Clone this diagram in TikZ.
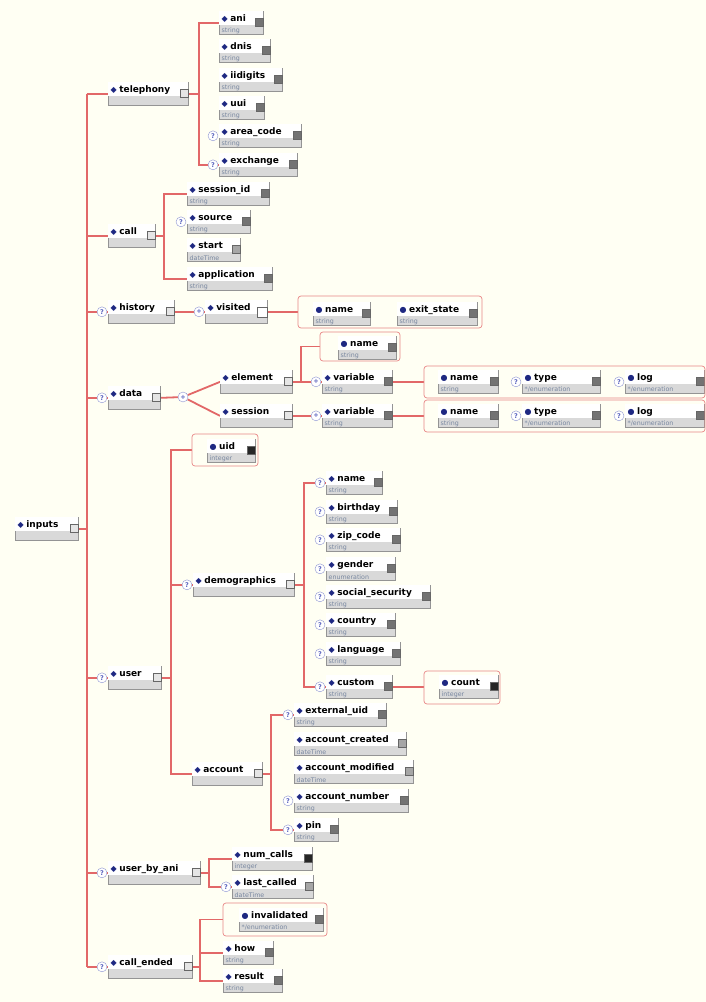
\documentclass[tikz,border=0pt]{standalone}
\usepackage{fontspec}
\setmainfont{DejaVu Sans}
\usetikzlibrary{positioning,fit,backgrounds,calc}
\definecolor{paper}{RGB}{255,255,243}
\definecolor{wire}{RGB}{226,104,104}
\definecolor{navy}{RGB}{30,40,130}
\definecolor{typec}{RGB}{120,135,160}
\definecolor{qcol}{RGB}{90,100,190}
\tikzset{
  elbox/.style ={draw=black!42, fill=black!15, minimum height=23pt, inner sep=0pt, line width=0.7pt},
  lbl/.style   ={font=\fontsize{9}{10}\selectfont\bfseries, inner sep=1pt},
  typ/.style   ={font=\fontsize{6.3}{7}\selectfont, text=typec, inner sep=0.5pt},
  ico/.style   ={draw=black!60, minimum size=8pt, inner sep=0pt, line width=0.4pt},
  icc/.style   ={ico, fill=black!10},
  ics/.style   ={ico, fill=black!55},
  ici/.style   ={ico, fill=black!85},
  icd/.style   ={ico, fill=black!35},
  ice/.style   ={ico, fill=white, minimum size=10pt},
  qmark/.style ={circle, draw=qcol!70, fill=white, minimum size=10pt, inner sep=0pt,
                 text=qcol, font=\fontsize{6.5}{6}\selectfont\bfseries},
  grp/.style   ={draw=wire!80, rounded corners=3pt, inner sep=0pt, line width=0.7pt},
  ln/.style    ={draw=wire, line width=1.8pt}
}
\newcommand{\dia}{{\color{navy}\fontsize{8}{6}\selectfont ◆}}
\newcommand{\dotm}{{\color{navy}\fontsize{8}{6}\selectfont ●}}
% [marker] id, position, width, name, type, icon
\newcommand{\elm}[7][\dia]{%
  \node[elbox, minimum width=#4pt, anchor=north west] (#2) at (#3) {};
  \fill[white] ([shift={(0.35pt,-0.35pt)}]#2.north west) rectangle ([shift={(-0.35pt,-14pt)}]#2.north east);
  \node[lbl, anchor=west] (#2-l) at ([shift={(1.5pt,-8pt)}]#2.north west) {#1\hspace{2.5pt}#5};
  \node[typ, anchor=south west] (#2-t) at ([shift={(2pt,0.6pt)}]#2.south west) {#6};
  \node[#7, anchor=north east] (#2-i) at ([yshift=-7pt]#2.north east) {};
}
\newcommand{\opt}[2][?]{\node[qmark] (#2-q) at ([xshift=-6pt]#2.west) {#1};}

\begin{document}
\begin{tikzpicture}[x=1pt,y=-1pt]
  \useasboundingbox (0,0) rectangle (706,1002);
  \begin{scope}[on background layer]
    \fill[paper] (0,0) rectangle (706,1002);
  \end{scope}

  \elm{inputs}{15,517}{63}{inputs}{}{icc}

  % first level
  \elm{tele}{108,82}{80}{telephony}{}{icc}
  \elm{call}{108,224}{47}{call}{}{icc}
  \elm{hist}{108,300}{66}{history}{}{icc}\opt{hist}
  \elm{data}{108,386}{52}{data}{}{icc}\opt{data}
  \elm{user}{108,666}{53}{user}{}{icc}\opt{user}
  \elm{uba}{108,861}{92}{user\_by\_ani}{}{icc}\opt{uba}
  \elm{cend}{108,955}{84}{call\_ended}{}{icc}\opt{cend}

  % telephony
  \elm{ani}{219,11}{44}{ani}{string}{ics}
  \elm{dnis}{219,39}{51}{dnis}{string}{ics}
  \elm{iid}{219,68}{63}{iidigits}{string}{ics}
  \elm{uui}{219,96}{45}{uui}{string}{ics}
  \elm{area}{219,124}{82}{area\_code}{string}{ics}\opt{area}
  \elm{exch}{219,153}{78}{exchange}{string}{ics}\opt{exch}

  % call
  \elm{sid}{187,182}{82}{session\_id}{string}{ics}
  \elm{src}{187,210}{63}{source}{string}{ics}\opt{src}
  \elm{start}{187,238}{53}{start}{dateTime}{icd}
  \elm{app}{187,267}{85}{application}{string}{ics}

  % history
  \elm{vis}{205,300}{62}{visited}{}{ice}\opt[+]{vis}
  \elm[\dotm]{hname}{313,302}{57}{name}{string}{ics}
  \elm[\dotm]{hexit}{397,302}{80}{exit\_state}{string}{ics}
  \node[grp, fit={(298,296) (482,328)}] (hgrp) {};

  % data
  \node[qmark] (dplus) at (183,397) {+};
  \elm{elem}{220,370}{72}{element}{}{icc}
  \elm{sess}{220,404}{72}{session}{}{icc}
  \elm[\dotm]{ename}{338,336}{58}{name}{string}{ics}
  \node[grp, fit={(320,332) (400,361)}] (egrp) {};
  \elm{evar}{322,370}{70}{variable}{string}{ics}\opt[+]{evar}
  \elm{svar}{322,404}{70}{variable}{string}{ics}\opt[+]{svar}
  \elm[\dotm]{evn}{438,370}{60}{name}{string}{ics}
  \elm[\dotm]{evt}{522,370}{78}{type}{*/enumeration}{ics}\opt{evt}
  \elm[\dotm]{evl}{625,370}{79}{log}{*/enumeration}{ics}\opt{evl}
  \node[grp, fit={(424,366) (705,398)}] (evgrp) {};
  \elm[\dotm]{svn}{438,404}{60}{name}{string}{ics}
  \elm[\dotm]{svt}{522,404}{78}{type}{*/enumeration}{ics}\opt{svt}
  \elm[\dotm]{svl}{625,404}{79}{log}{*/enumeration}{ics}\opt{svl}
  \node[grp, fit={(424,400) (705,432)}] (svgrp) {};

  % user
  \elm[\dotm]{uid}{207,439}{48}{uid}{integer}{ici}
  \node[grp, fit={(192,434) (258,466)}] (ugrp) {};
  \elm{demo}{193,573}{101}{demographics}{}{icc}\opt{demo}
  \elm{acct}{192,762}{70}{account}{}{icc}

  \elm{dname}{326,471}{56}{name}{string}{ics}\opt{dname}
  \elm{bday}{326,500}{71}{birthday}{string}{ics}\opt{bday}
  \elm{zip}{326,528}{74}{zip\_code}{string}{ics}\opt{zip}
  \elm{gend}{326,557}{69}{gender}{enumeration}{ics}\opt{gend}
  \elm{ssn}{326,585}{104}{social\_security}{string}{ics}\opt{ssn}
  \elm{ctry}{326,613}{69}{country}{string}{ics}\opt{ctry}
  \elm{lang}{326,642}{74}{language}{string}{ics}\opt{lang}
  \elm{cust}{326,675}{66}{custom}{string}{ics}\opt{cust}
  \elm[\dotm]{cnt}{439,675}{59}{count}{integer}{ici}
  \node[grp, fit={(424,671) (500,704)}] (cgrp) {};

  \elm{xuid}{294,703}{92}{external\_uid}{string}{ics}\opt{xuid}
  \elm{acre}{294,732}{112}{account\_created}{dateTime}{icd}
  \elm{amod}{294,760}{119}{account\_modified}{dateTime}{icd}
  \elm{anum}{294,789}{114}{account\_number}{string}{ics}\opt{anum}
  \elm{pin}{294,818}{44}{pin}{string}{ics}\opt{pin}

  % user_by_ani
  \elm{numc}{232,847}{80}{num\_calls}{integer}{ici}
  \elm{lastc}{232,875}{81}{last\_called}{dateTime}{icd}\opt{lastc}

  % call_ended
  \elm[\dotm]{inval}{239,908}{84}{invalidated}{*/enumeration}{ics}
  \node[grp, fit={(223,903) (327,936)}] (igrp) {};
  \elm{how}{223,941}{50}{how}{string}{ics}
  \elm{result}{223,969}{59}{result}{string}{ics}

  % connectors
  \begin{scope}[on background layer]
    \draw[ln] (inputs.east) -- ++(8pt,0pt) coordinate (vin);
    \draw[ln] (vin |- tele.west) -- (vin |- cend.west);
    \foreach \c in {tele,call,hist,data,user,uba,cend}
      \draw[ln] (vin |- \c.west) -- (\c.west);

    \draw[ln] (tele.east) -- ++(10pt,0pt) coordinate (vtel);
    \draw[ln] (ani.west) -| (vtel) |- (exch.west);

    \draw[ln] (call.east) -- ++(8pt,0pt) coordinate (vcall);
    \draw[ln] (sid.west) -| (vcall) |- (app.west);

    \draw[ln] (hist.east) -- (vis.west);
    \draw[ln] (vis.east) -- (vis.east -| hgrp.west);

    \draw[ln] (data.east) -- (dplus);
    \draw[ln] (dplus) -- (elem.west);
    \draw[ln] (dplus) -- (sess.west);
    \draw[ln] (elem.east) -- ++(8pt,0pt) coordinate (velem);
    \draw[ln] (egrp.west) -| (velem) -- (evar.west);
    \draw[ln] (sess.east) -- (svar.west);
    \draw[ln] (evar.east) -- (evar.east -| evgrp.west);
    \draw[ln] (svar.east) -- (svar.east -| svgrp.west);

    \draw[ln] (user.east) -- ++(9pt,0pt) coordinate (vuser);
    \draw[ln] (ugrp.west) -| (vuser) |- (acct.west);
    \draw[ln] (vuser |- demo.west) -- (demo.west);
    \draw[ln] (demo.east) -- ++(9pt,0pt) coordinate (vdemo);
    \draw[ln] (dname.west) -| (vdemo) |- (cust.west);
    \draw[ln] (cust.east) -- (cust.east -| cgrp.west);
    \draw[ln] (acct.east) -- ++(8pt,0pt) coordinate (vacct);
    \draw[ln] (xuid.west) -| (vacct) |- (pin.west);

    \draw[ln] (uba.east) -- ++(8pt,0pt) coordinate (vuba);
    \draw[ln] (numc.west) -| (vuba) |- (lastc.west);

    \draw[ln] (cend.east) -- ++(7pt,0pt) coordinate (vcend);
    \draw[ln] (igrp.west) -| (vcend) |- (result.west);
    \draw[ln] (vcend |- how.west) -- (how.west);
  \end{scope}
\end{tikzpicture}
\end{document}
